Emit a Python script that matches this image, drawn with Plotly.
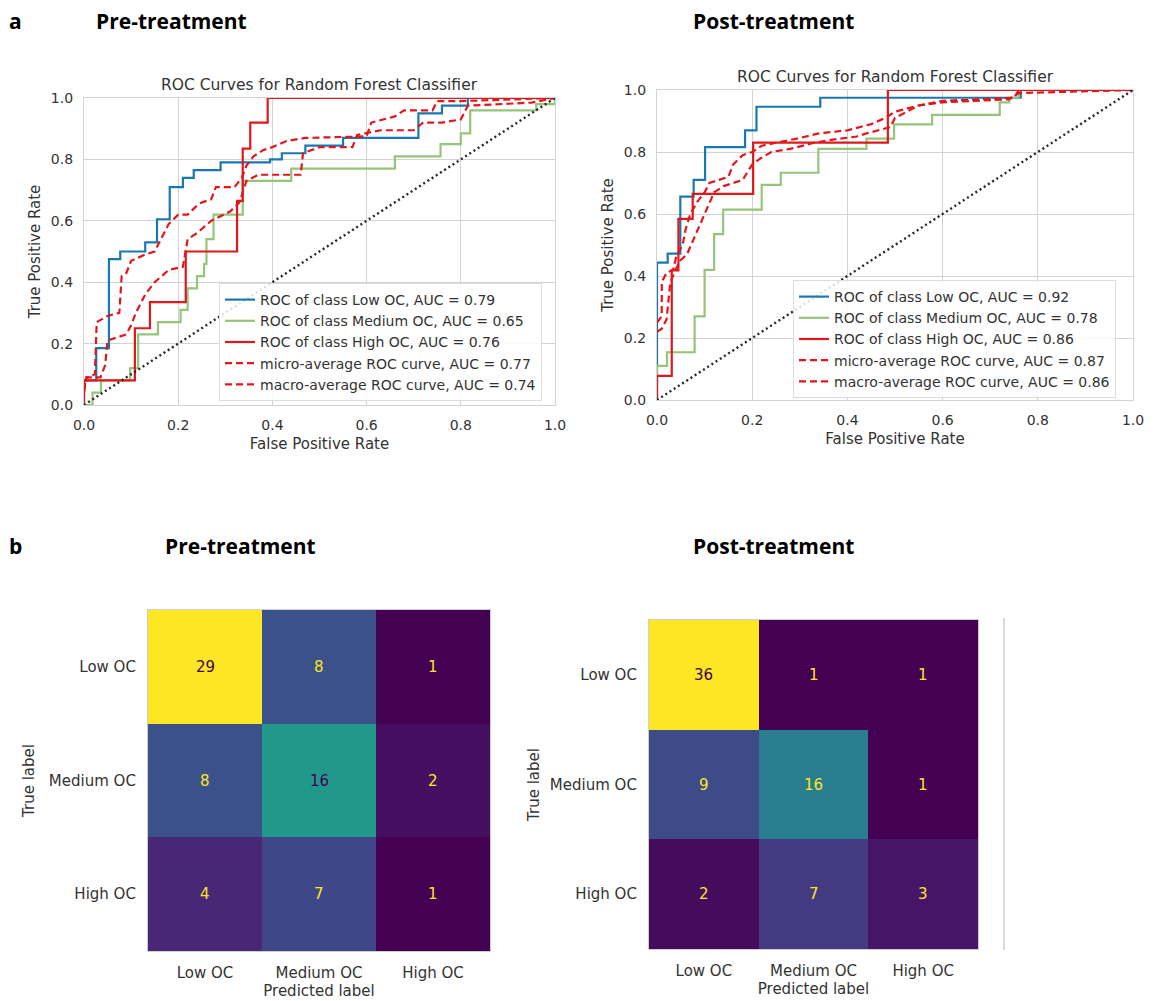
import plotly.graph_objects as go

W, H = 1159, 1001
OFF = 8  # page body margin of the browser
FW, FH = W - OFF, H - OFF
classes = ["Low OC", "Medium OC", "High OC"]

# ---------------- ROC data ----------------
# class curves: (fpr, tpr) after each vertical rise -> drawn as steps
pre_low_fpr = [0, 0, 0.026, 0.053, 0.077, 0.13, 0.155, 0.182, 0.21, 0.233, 0.29, 0.395, 0.42, 0.47, 0.55, 0.71, 0.76, 0.815, 1.0]
pre_low_tpr = [0, 0.08, 0.185, 0.475, 0.5, 0.53, 0.605, 0.71, 0.74, 0.765, 0.79, 0.80, 0.82, 0.845, 0.87, 0.95, 0.975, 1.0, 1.0]
pre_med_fpr = [0, 0.018, 0.036, 0.098, 0.115, 0.157, 0.205, 0.22, 0.24, 0.255, 0.26, 0.275, 0.337, 0.44, 0.66, 0.757, 0.8, 0.82, 0.96, 1.0]
pre_med_tpr = [0, 0.04, 0.08, 0.12, 0.23, 0.27, 0.31, 0.38, 0.42, 0.46, 0.54, 0.62, 0.73, 0.77, 0.81, 0.85, 0.885, 0.96, 0.98, 1.0]
pre_high_fpr = [0, 0, 0.108, 0.14, 0.216, 0.325, 0.337, 0.353, 0.39, 1.0]
pre_high_tpr = [0, 0.08, 0.25, 0.335, 0.5, 0.665, 0.835, 0.92, 1.0, 1.0]
pre_micro_fpr = [0, 0.005, 0.01, 0.023, 0.027, 0.05, 0.075, 0.08, 0.09, 0.1, 0.13, 0.15, 0.16, 0.18, 0.2, 0.22, 0.24, 0.25, 0.27, 0.28, 0.32, 0.335, 0.345, 0.36, 0.38, 0.4, 0.43, 0.47, 0.6, 0.61, 0.66, 0.68, 0.74, 0.75, 0.8, 1.0]
pre_micro_tpr = [0.04, 0.09, 0.09, 0.1, 0.27, 0.29, 0.3, 0.42, 0.43, 0.47, 0.49, 0.5, 0.53, 0.59, 0.62, 0.62, 0.65, 0.66, 0.67, 0.71, 0.71, 0.74, 0.78, 0.81, 0.83, 0.84, 0.86, 0.87, 0.875, 0.92, 0.94, 0.96, 0.96, 0.99, 0.99, 1.0]
pre_macro_fpr = [0, 0.005, 0.035, 0.045, 0.05, 0.09, 0.1, 0.11, 0.13, 0.15, 0.18, 0.21, 0.22, 0.24, 0.27, 0.31, 0.33, 0.345, 0.37, 0.46, 0.465, 0.5, 0.57, 0.58, 0.63, 0.7, 0.72, 0.76, 0.8, 0.815, 0.95, 1.0]
pre_macro_tpr = [0.05, 0.09, 0.09, 0.13, 0.21, 0.23, 0.26, 0.3, 0.36, 0.4, 0.44, 0.45, 0.54, 0.56, 0.6, 0.63, 0.66, 0.73, 0.75, 0.75, 0.82, 0.84, 0.84, 0.88, 0.895, 0.895, 0.92, 0.92, 0.93, 0.975, 0.985, 1.0]

post_low_fpr = [0, 0, 0.0225, 0.049, 0.077, 0.101, 0.185, 0.209, 0.343, 0.764, 1.0]
post_low_tpr = [0, 0.443, 0.472, 0.656, 0.71, 0.816, 0.87, 0.946, 0.975, 1.0, 1.0]
post_med_fpr = [0, 0, 0.021, 0.079, 0.1, 0.12, 0.139, 0.22, 0.26, 0.339, 0.44, 0.498, 0.578, 0.72, 0.74, 0.76, 1.0]
post_med_tpr = [0, 0.11, 0.154, 0.27, 0.42, 0.535, 0.614, 0.694, 0.733, 0.81, 0.843, 0.889, 0.92, 0.96, 0.975, 1.0, 1.0]
post_high_fpr = [0, 0, 0.031, 0.045, 0.075, 0.202, 0.485, 1.0]
post_high_tpr = [0, 0.078, 0.418, 0.584, 0.665, 0.83, 1.0, 1.0]
post_micro_fpr = [0, 0.01, 0.01, 0.02, 0.034, 0.04, 0.046, 0.054, 0.06, 0.07, 0.085, 0.1, 0.11, 0.15, 0.16, 0.18, 0.2, 0.22, 0.25, 0.3, 0.34, 0.4, 0.45, 0.48, 0.5, 0.55, 0.6, 0.75, 0.76, 1.0]
post_micro_tpr = [0.25, 0.27, 0.38, 0.41, 0.42, 0.46, 0.48, 0.5, 0.55, 0.6, 0.64, 0.67, 0.7, 0.72, 0.76, 0.79, 0.8, 0.82, 0.83, 0.845, 0.86, 0.87, 0.89, 0.91, 0.93, 0.95, 0.965, 0.975, 1.0, 1.0]
post_macro_fpr = [0, 0.01, 0.02, 0.028, 0.039, 0.049, 0.063, 0.077, 0.091, 0.105, 0.12, 0.14, 0.16, 0.18, 0.2, 0.218, 0.24, 0.28, 0.33, 0.37, 0.42, 0.44, 0.49, 0.5, 0.55, 0.6, 0.74, 0.76, 1.0]
post_macro_tpr = [0.22, 0.23, 0.26, 0.38, 0.42, 0.45, 0.47, 0.52, 0.57, 0.62, 0.67, 0.69, 0.70, 0.71, 0.76, 0.78, 0.8, 0.81, 0.83, 0.84, 0.85, 0.86, 0.88, 0.91, 0.95, 0.96, 0.97, 0.99, 1.0]

pre_auc = [0.79, 0.65, 0.76]
pre_micro_auc, pre_macro_auc = 0.77, 0.74
post_auc = [0.92, 0.78, 0.86]
post_micro_auc, post_macro_auc = 0.87, 0.86

cm_pre = [[29, 8, 1], [8, 16, 2], [4, 7, 1]]
cm_post = [[36, 1, 1], [9, 16, 1], [2, 7, 3]]

tick_vals = [0.0, 0.2, 0.4, 0.6, 0.8, 1.0]

# ---------------- styling ----------------
FONT = "DejaVu Sans"
TXT = "#333333"
GRID = "#d3d3d3"
C_BLUE = "#1a78b0"
C_GREEN = "#95c47b"
C_RED = "#e0181c"


def px_x(p):
    return (p - OFF) / FW


def px_y(p):
    return 1 - (p - OFF) / FH


fig = go.Figure()


def add_roc(xa, ya, legend, data, aucs, micro_auc, macro_auc):
    (lf, lt), (mf, mt), (hf, ht), (uf, ut), (af, at) = data
    colors = [C_BLUE, C_GREEN, C_RED]
    for (f, t), c, name, a in zip([(lf, lt), (mf, mt), (hf, ht)], colors, classes, aucs):
        fig.add_trace(go.Scatter(x=f, y=t, mode="lines", line=dict(color=c, width=2.2, shape="hv"),
                                 name=f"ROC of class {name}, AUC = {a:.2f}",
                                 xaxis=xa, yaxis=ya, legend=legend, hoverinfo="skip"))
    fig.add_trace(go.Scatter(x=uf, y=ut, mode="lines", line=dict(color=C_RED, width=2.2, dash="7px,4px"),
                             name=f"micro-average ROC curve, AUC = {micro_auc:.2f}",
                             xaxis=xa, yaxis=ya, legend=legend, hoverinfo="skip"))
    fig.add_trace(go.Scatter(x=af, y=at, mode="lines", line=dict(color=C_RED, width=2.2, dash="7px,4px"),
                             name=f"macro-average ROC curve, AUC = {macro_auc:.2f}",
                             xaxis=xa, yaxis=ya, legend=legend, hoverinfo="skip"))
    fig.add_trace(go.Scatter(x=[0, 1], y=[0, 1], mode="lines", line=dict(color="#262626", width=2.4, dash="2px,3px"),
                             showlegend=False, xaxis=xa, yaxis=ya, hoverinfo="skip"))


add_roc("x", "y", "legend",
        [(pre_low_fpr, pre_low_tpr), (pre_med_fpr, pre_med_tpr), (pre_high_fpr, pre_high_tpr),
         (pre_micro_fpr, pre_micro_tpr), (pre_macro_fpr, pre_macro_tpr)],
        pre_auc, pre_micro_auc, pre_macro_auc)
add_roc("x2", "y2", "legend2",
        [(post_low_fpr, post_low_tpr), (post_med_fpr, post_med_tpr), (post_high_fpr, post_high_tpr),
         (post_micro_fpr, post_micro_tpr), (post_macro_fpr, post_macro_tpr)],
        post_auc, post_micro_auc, post_macro_auc)


def add_cm(cm, xa, ya):
    flat = [v for row in cm for v in row]
    vmin, vmax = min(flat), max(flat)
    fig.add_trace(go.Heatmap(z=cm, x=classes, y=classes, colorscale="Viridis", zmin=vmin, zmax=vmax,
                             showscale=False, xaxis=xa, yaxis=ya, hoverinfo="skip"))
    thresh = (vmax + vmin) / 2.0
    for i, row in enumerate(cm):
        for j, v in enumerate(row):
            col = "#fde725" if v < thresh else "#440154"
            fig.add_annotation(x=classes[j], y=classes[i], xref=xa, yref=ya, text=str(v),
                               showarrow=False, font=dict(family=FONT, size=15, color=col))


add_cm(cm_pre, "x3", "y3")
add_cm(cm_post, "x4", "y4")

roc_axis = dict(range=[0, 1], tickvals=tick_vals, tickformat=".1f", showgrid=True, gridcolor=GRID,
                gridwidth=1.2, zeroline=False, showline=True, linecolor=GRID, linewidth=1.2, mirror=True,
                ticks="", ticklabelstandoff=7, automargin=False,
                tickfont=dict(family=FONT, size=14, color=TXT))

cm_axis = dict(showgrid=False, zeroline=False, showline=True, linecolor="#cfcfcf", linewidth=1.2, mirror=True,
               ticks="", automargin=False, tickfont=dict(family=FONT, size=15, color=TXT))

TT = dict(size=15, color=TXT)
LEG = dict(xanchor="left", yanchor="top", bgcolor="rgba(255,255,255,0.85)", bordercolor="#dcdcdc",
           borderwidth=1, font=dict(family=FONT, size=14, color=TXT), tracegroupgap=0, itemwidth=30)
layout = dict(
    width=FW, height=FH, margin=dict(l=0, r=0, t=0, b=0, autoexpand=False),
    paper_bgcolor="white", plot_bgcolor="white",
    font=dict(family=FONT, color=TXT),
    xaxis=dict(roc_axis, domain=[px_x(84), px_x(555)], anchor="y",
               title=dict(text="False Positive Rate", font=TT, standoff=6)),
    yaxis=dict(roc_axis, domain=[px_y(405), px_y(98)], anchor="x",
               title=dict(text="True Positive Rate", font=TT, standoff=6)),
    xaxis2=dict(roc_axis, domain=[px_x(657), px_x(1133)], anchor="y2",
                title=dict(text="False Positive Rate", font=TT, standoff=6)),
    yaxis2=dict(roc_axis, domain=[px_y(400), px_y(90)], anchor="x2",
                title=dict(text="True Positive Rate", font=TT, standoff=6)),
    xaxis3=dict(cm_axis, domain=[px_x(148), px_x(490)], anchor="y3", ticklabelstandoff=8,
                title=dict(text="Predicted label", font=TT, standoff=2)),
    yaxis3=dict(cm_axis, domain=[px_y(951), px_y(610)], anchor="x3", autorange="reversed", ticklabelstandoff=8,
                title=dict(text="True label", font=TT, standoff=10)),
    xaxis4=dict(cm_axis, domain=[px_x(649), px_x(978)], anchor="y4", ticklabelstandoff=8,
                title=dict(text="Predicted label", font=TT, standoff=2)),
    yaxis4=dict(cm_axis, domain=[px_y(949), px_y(620)], anchor="x4", autorange="reversed", ticklabelstandoff=8,
                title=dict(text="True label", font=TT, standoff=6)),
    legend=dict(LEG, x=px_x(219), y=px_y(283)),
    legend2=dict(LEG, x=px_x(793), y=px_y(280)),
    showlegend=True,
)
fig.update_layout(**layout)

# ROC titles
for xa, ytop in [("x", 98), ("x2", 90)]:
    fig.add_annotation(text="ROC Curves for Random Forest Classifier", xref=f"{xa} domain", x=0.5,
                       yref="paper", y=px_y(ytop - 2), yanchor="bottom", showarrow=False,
                       font=dict(family=FONT, size=15.5, color=TXT))

# panel headings
HEAD = dict(family="Open Sans", size=21, color="black")
for txt, cx, cy in [("<b>a</b>", 16, 21), ("<b>Pre-treatment</b>", 171, 21), ("<b>Post-treatment</b>", 773, 21),
                    ("<b>b</b>", 16, 546), ("<b>Pre-treatment</b>", 240, 546), ("<b>Post-treatment</b>", 773, 546)]:
    fig.add_annotation(text=txt, xref="paper", yref="paper", x=px_x(cx), y=px_y(cy), xanchor="center",
                       yanchor="middle", showarrow=False, font=HEAD)

# thin colorbar remnant beside the post-treatment matrix
fig.add_shape(type="line", xref="paper", yref="paper", x0=px_x(1004), x1=px_x(1004), y0=px_y(950), y1=px_y(618),
              line=dict(color="#cfcfcf", width=1.5))

fig.write_html("out.html")
